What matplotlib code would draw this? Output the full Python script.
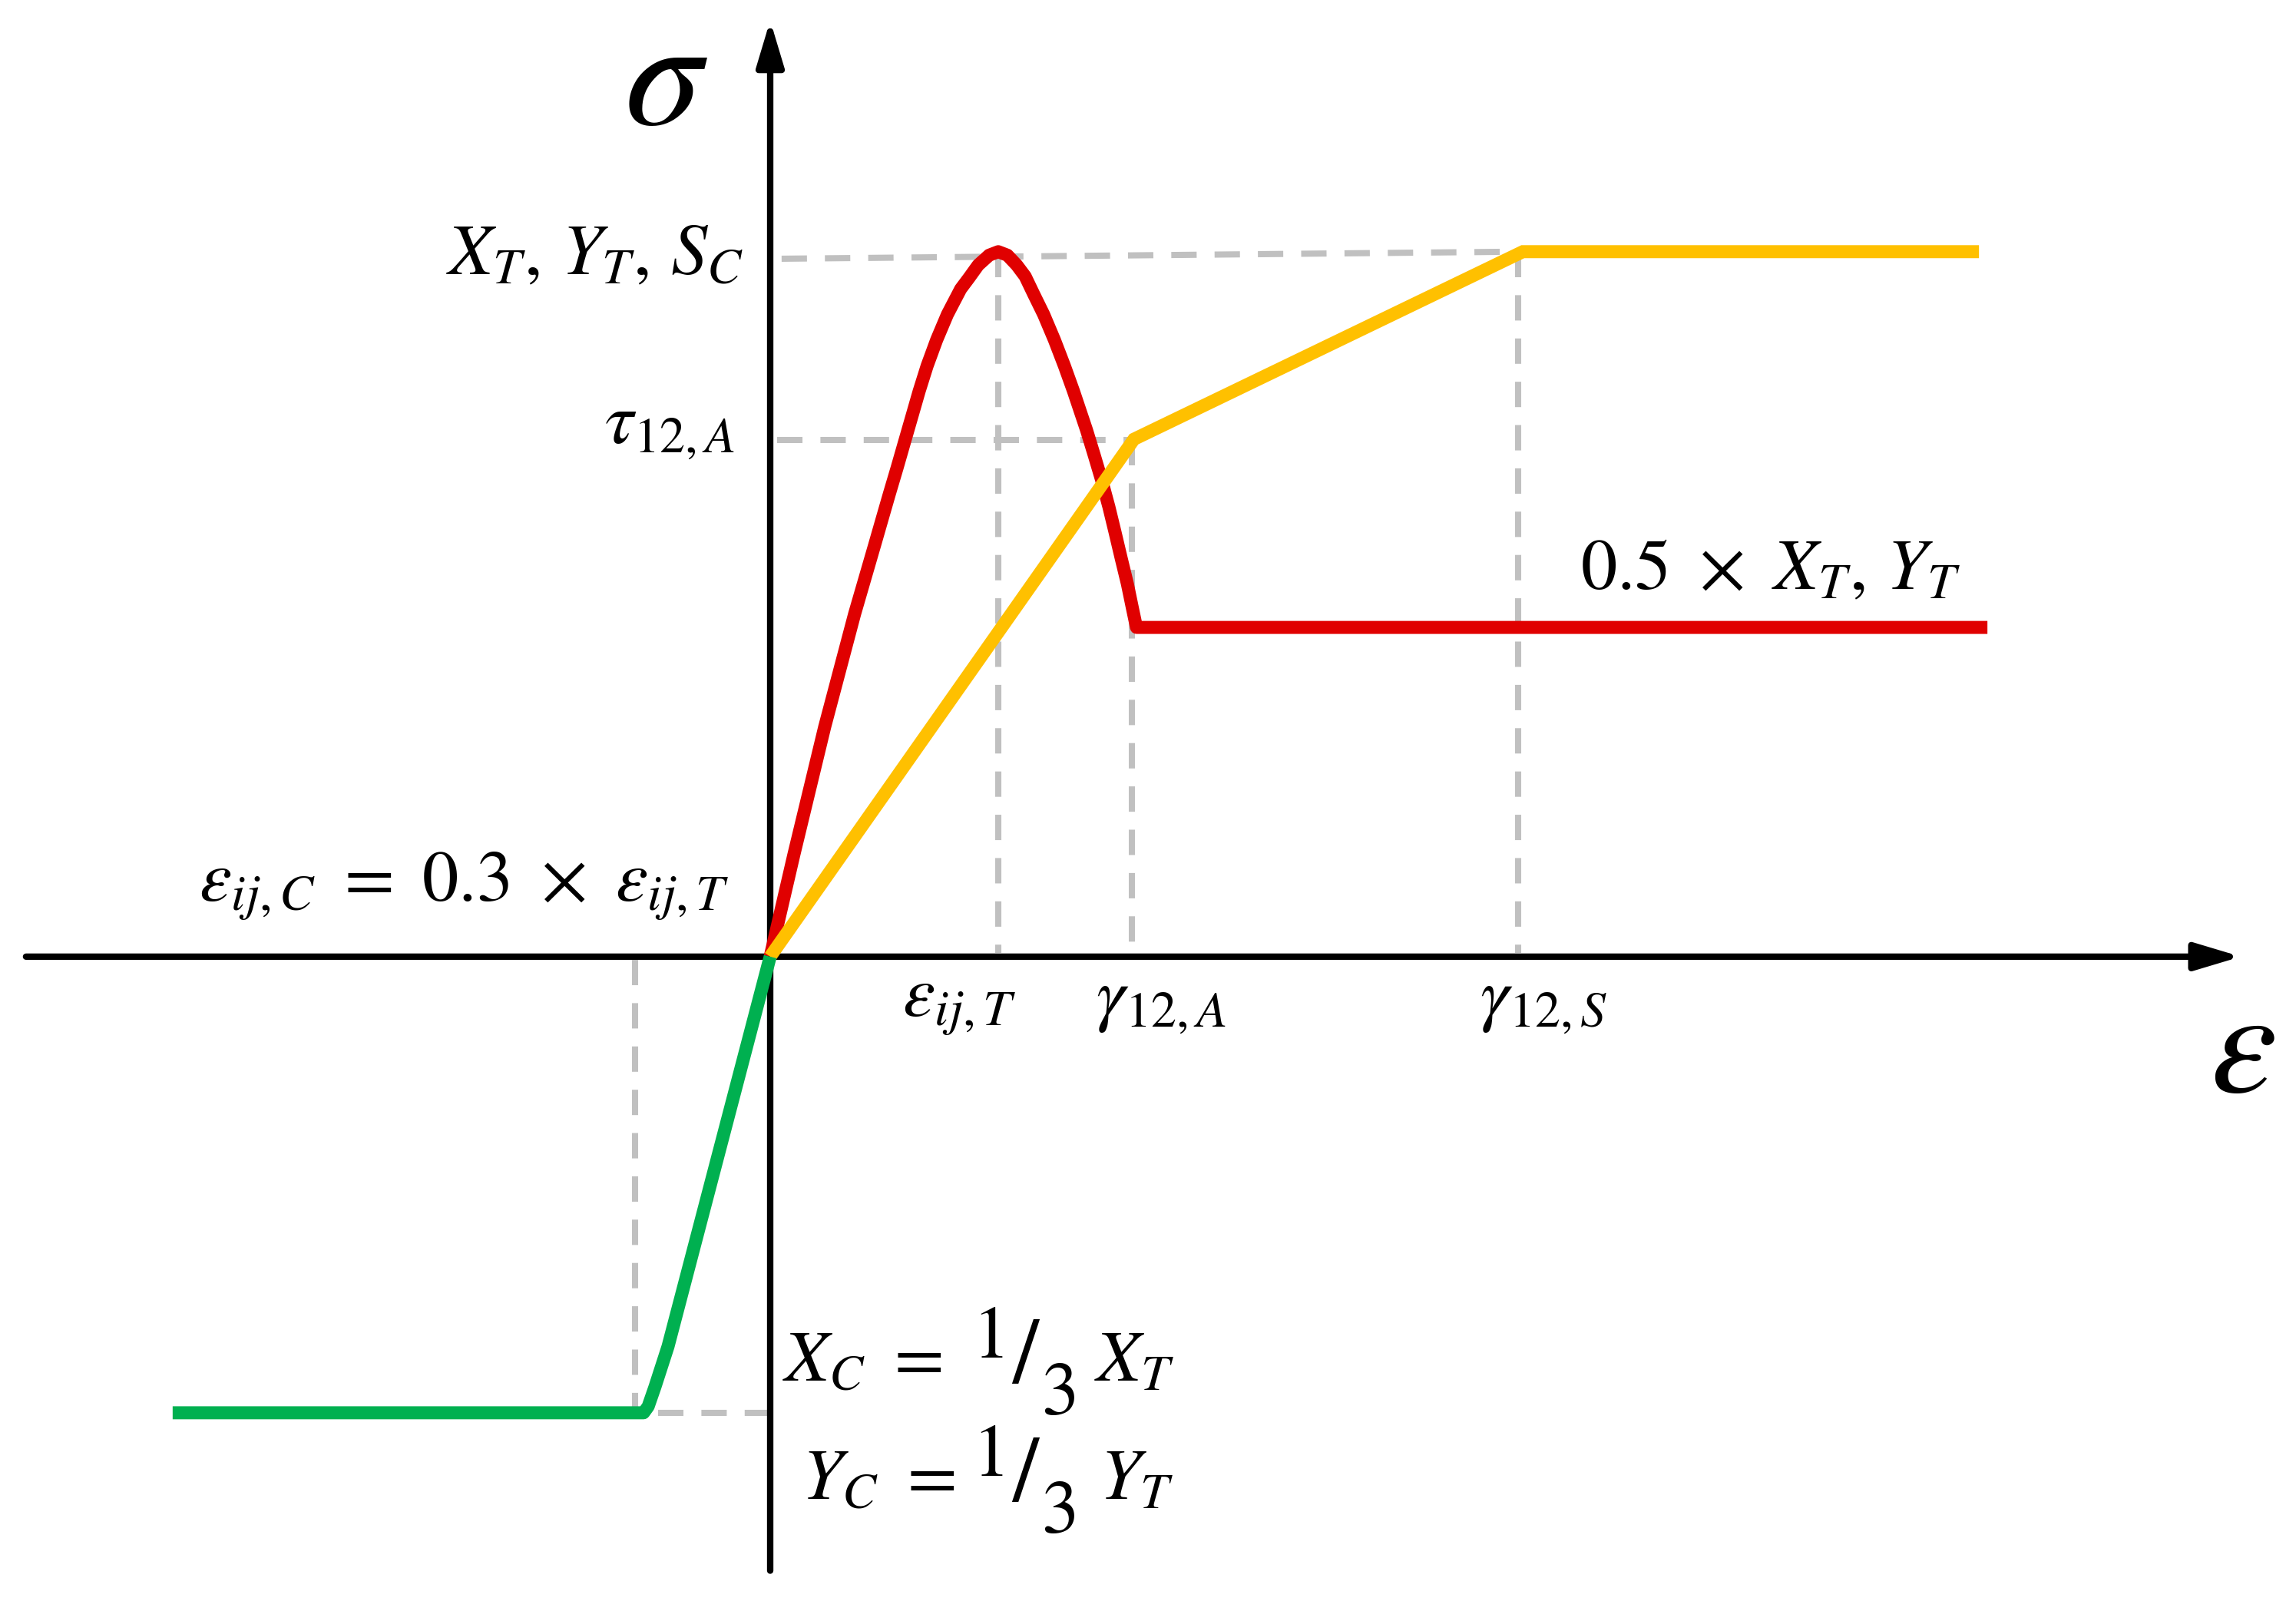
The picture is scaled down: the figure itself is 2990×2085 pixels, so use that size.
import matplotlib.pyplot as plt

# Math text in a Times-like face
plt.rcParams['mathtext.fontset'] = 'stix'
plt.rcParams['font.family'] = 'STIXGeneral'

# Characteristic strains (normalised by eps_ij,T) and stresses (normalised by X_T)
eps_T = 1.0
gamma_A = 1.585
gamma_S = 3.28
eps_C = -0.593
X_T = 1.0
tau_A = 0.733
sig_C = -0.647

# Tension curve (red): rise to peak, drop, plateau at 0.5 X_T
red_eps = [0.0, 0.104, 0.239, 0.370, 0.458, 0.490, 0.523, 0.556, 0.588, 0.621,
           0.653, 0.688, 0.730, 0.777, 0.835, 0.872, 0.912, 0.960, 1.0, 1.040,
           1.081, 1.118, 1.155, 1.199, 1.246, 1.290, 1.330, 1.387, 1.421, 1.455,
           1.485, 1.512, 1.539, 1.566, 1.589, 1.606, 5.337]
red_sig = [0.0, 0.145, 0.326, 0.486, 0.584, 0.620, 0.657, 0.693, 0.729, 0.766,
           0.802, 0.838, 0.875, 0.911, 0.947, 0.963, 0.981, 0.995, 1.0, 0.995,
           0.981, 0.965, 0.940, 0.911, 0.875, 0.838, 0.802, 0.747, 0.711, 0.674,
           0.638, 0.602, 0.565, 0.529, 0.493, 0.467, 0.467]

# Shear curve (yellow)
yellow_eps = [0.0, 1.595, 3.30, 5.30]
yellow_sig = [0.0, 0.734, 1.0, 1.0]

# Compression curve (green)
green_eps = [0.0, -0.448, -0.505, -0.535, -0.555, -2.62]
green_sig = [0.0, -0.553, -0.610, -0.638, -0.647, -0.647]


def px(xp, yp):
    # place annotation text by picture position
    return (xp - 1003) / 297, (1246 - yp) / 918


fig = plt.figure(figsize=(29.9, 20.85), dpi=100)
ax = fig.add_axes([0, 0, 1, 1])
ax.set_xlim(-3.377, 6.690)
ax.set_ylim(-0.914, 1.357)
ax.axis('off')

# axes with arrow heads
arrow = dict(arrowstyle='-|>,head_length=1.0,head_width=0.3', lw=6, color='black',
             mutation_scale=36, shrinkA=0, shrinkB=0)
ax.annotate('', xy=(6.448, 0), xytext=(-3.263, 0), arrowprops=arrow, zorder=2)
ax.annotate('', xy=(0, 1.328), xytext=(0, -0.871), arrowprops=arrow, zorder=2)

# grey guide lines
guide = dict(color='#c0c0c0', lw=5.8, dashes=(4.1, 2.9), dash_capstyle='butt', zorder=1)
ax.plot([0.05, gamma_S], [0.99, X_T], **guide)
ax.plot([0.03, gamma_A], [tau_A, tau_A], **guide)
ax.plot([eps_T, eps_T], [X_T, 0.005], **guide)
ax.plot([gamma_A, gamma_A], [tau_A, 0.005], **guide)
ax.plot([gamma_S, gamma_S], [X_T, 0.005], **guide)
ax.plot([eps_C, eps_C], [-0.005, sig_C], **guide)
ax.plot([-0.49, 0], [sig_C, sig_C], **guide)

# curves
line = dict(lw=12.2, solid_capstyle='butt', zorder=3)
ax.plot(red_eps, red_sig, color='#e00000', solid_joinstyle='round', **line)
ax.plot(yellow_eps, yellow_sig, color='#ffc000', solid_joinstyle='miter', **line)
ax.plot(green_eps, green_sig, color='#00b050', solid_joinstyle='round', **line)

# labels
fs = 68
ax.text(-0.458, 1.232, r'$\sigma$', fontsize=145, ha='center', va='center')
ax.text(6.455, -0.143, r'$\varepsilon$', fontsize=140, ha='center', va='center')
ax.text(-0.118, 0.968, r'$X_T,\, Y_T,\, S_C$', fontsize=fs, ha='right', va='baseline')
ax.text(-0.155, 0.728, r'$\tau_{12,A}$', fontsize=fs, ha='right', va='baseline')
ax.text(-0.178, 0.0795, r'$\varepsilon_{ij,C}\ =\ 0.3\ \times\ \varepsilon_{ij,T}$',
        fontsize=fs, ha='right', va='baseline')
ax.text(0.83, -0.083, r'$\varepsilon_{ij,T}$', fontsize=fs, ha='center', va='baseline')
ax.text(1.714, -0.086, r'$\gamma_{12,A}$', fontsize=fs, ha='center', va='baseline')
ax.text(3.39, -0.086, r'$\gamma_{12,S}$', fontsize=fs, ha='center', va='baseline')
ax.text(3.552, 0.521, r'$0.5\ \times\ X_T,\, Y_T$', fontsize=fs, ha='left', va='baseline')

# X_C = 1/3 X_T and Y_C = 1/3 Y_T with slanted fractions
for name, x0, base, xr in [('X', 1019, 1798, 1425), ('Y', 1044, 1952, 1432)]:
    ax.text(*px(x0, base), r'$%s_C\ =$' % name, fontsize=fs, ha='left', va='baseline')
    ax.text(*px(1290, base - 30), '1', fontsize=70, ha='center', va='baseline')
    ax.text(*px(1335, base - 26), '/', fontsize=88, ha='center', va='center')
    ax.text(*px(1380, base + 44), '3', fontsize=70, ha='center', va='baseline')
    ax.text(*px(xr, base), r'$%s_T$' % name, fontsize=fs, ha='left', va='baseline')

fig.savefig('out.png', dpi=100)
